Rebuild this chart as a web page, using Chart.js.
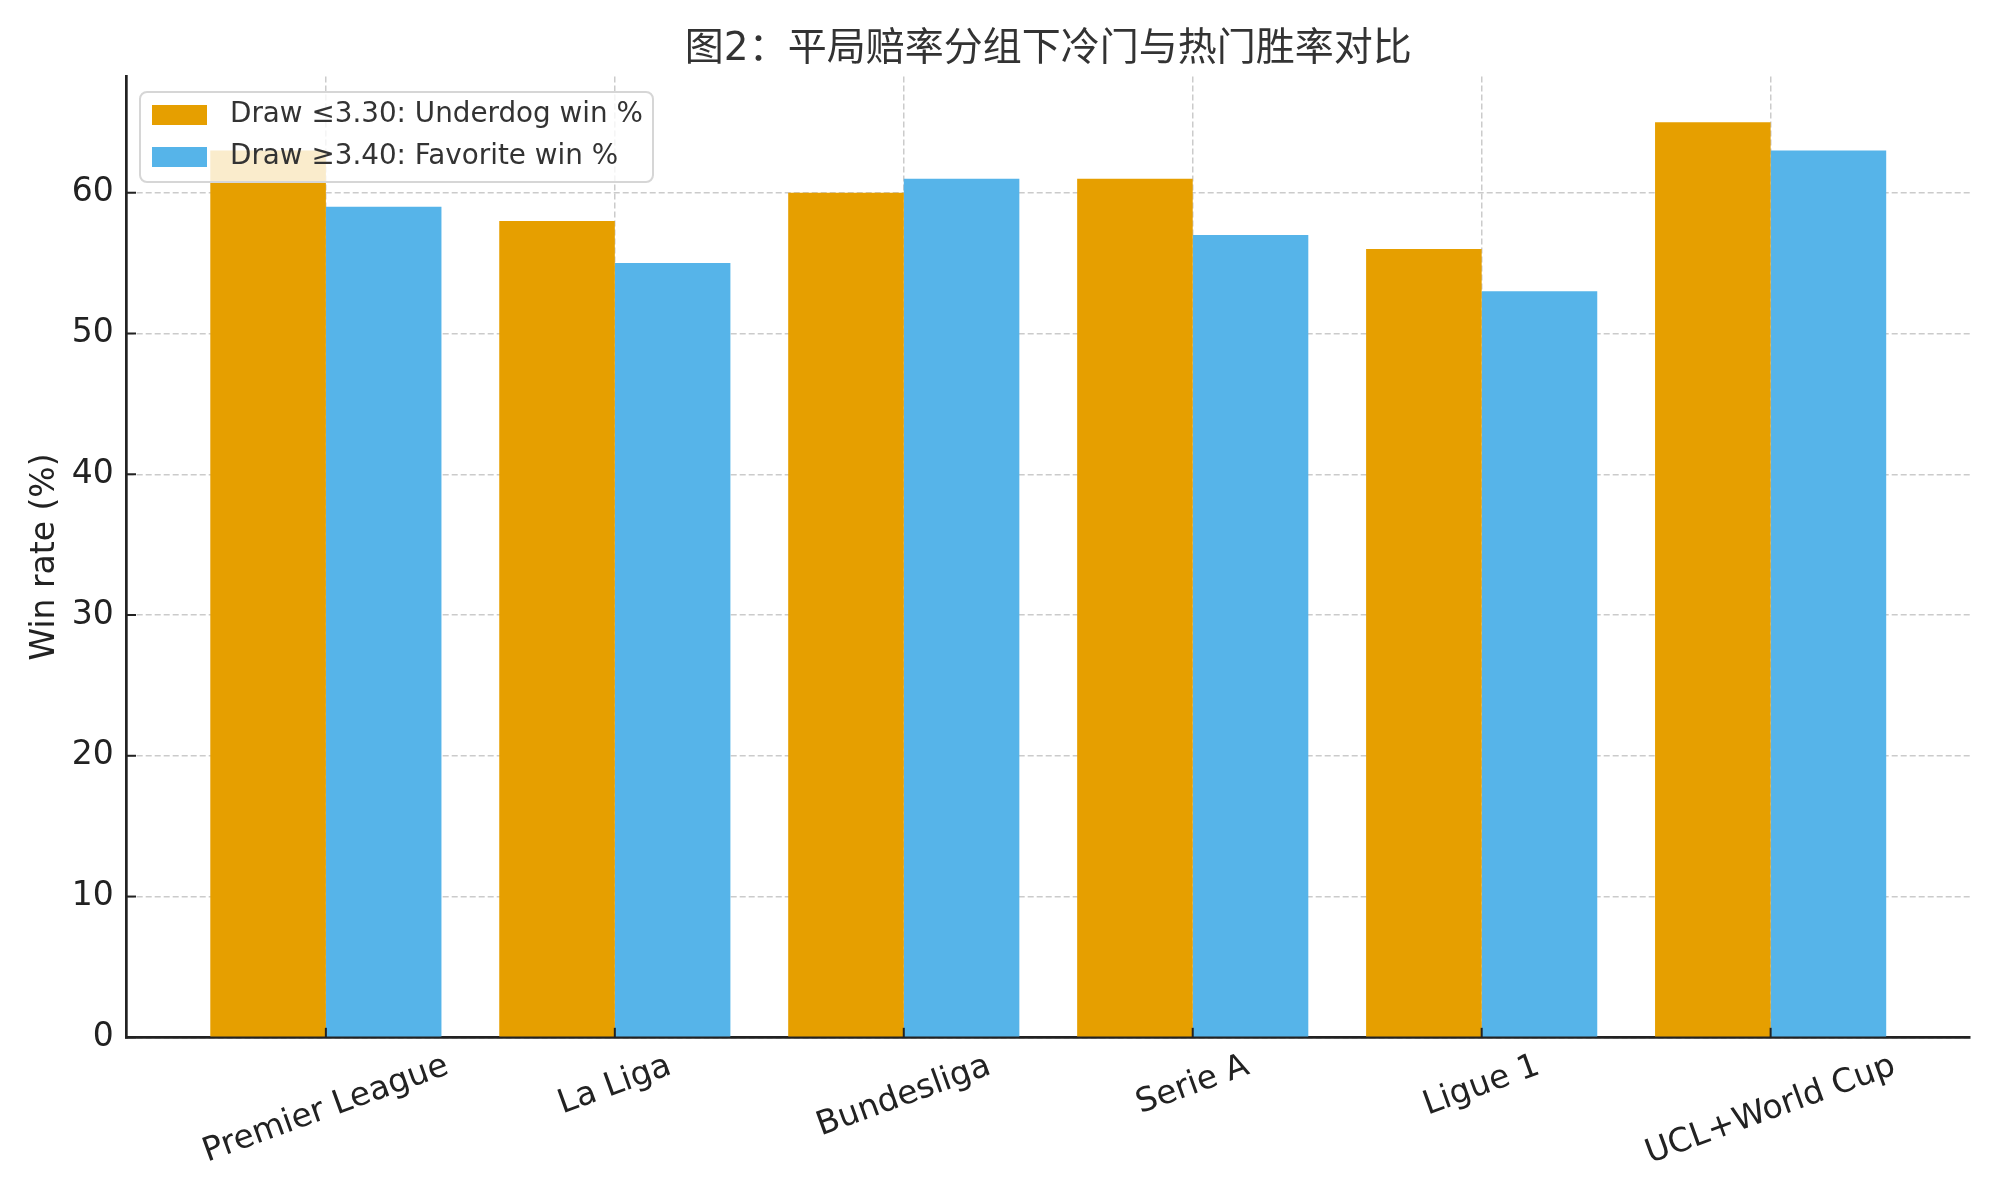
<!DOCTYPE html>
<html>
<head>
<meta charset="utf-8">
<script src="https://cdn.jsdelivr.net/npm/chart.js@4"></script>
<style>
  html, body { margin: 0; padding: 0; background: #fff; }
  canvas { display: block; }
</style>
</head>
<body>
<canvas id="winChart" width="2000" height="1200"></canvas>
<script>
// 데이터
const categories = ['Premier League', 'La Liga', 'Bundesliga', 'Serie A', 'Ligue 1', 'UCL+World Cup'];
const underdogWin = [63, 58, 60, 61, 56, 65];   // Draw ≤3.30
const favoriteWin = [59, 55, 61, 57, 53, 63];   // Draw ≥3.40
const yTicks = [0, 10, 20, 30, 40, 50, 60];
const seriesLabels = ['Draw ≤3.30: Underdog win %', 'Draw ≥3.40: Favorite win %'];
const chartTitle = '图2：平局赔率分组下冷门与热门胜率对比';
const yTitle = 'Win rate (%)';

const ORANGE = '#E69F00';
const BLUE = '#56B4E9';
const FONT = '"DejaVu Sans", "Noto Sans CJK SC", sans-serif';

// 제목, 축 라벨, 범례, 안쪽 눈금 그리기
const decorPlugin = {
    id: 'decor',
    afterDraw(chart) {
        const ctx = chart.ctx;
        const area = chart.chartArea;
        const xs = chart.scales.x;
        const ys = chart.scales.y;
        ctx.save();

        // 안쪽 눈금
        ctx.strokeStyle = '#222';
        ctx.lineWidth = 2;
        categories.forEach((c, i) => {
            const px = xs.getPixelForValue(i);
            ctx.beginPath();
            ctx.moveTo(px, area.bottom);
            ctx.lineTo(px, area.bottom - 9.5);
            ctx.stroke();
        });
        yTicks.forEach(v => {
            const py = ys.getPixelForValue(v);
            ctx.beginPath();
            ctx.moveTo(area.left, py);
            ctx.lineTo(area.left + 9.5, py);
            ctx.stroke();
        });

        // x 라벨 (20도 회전, 가운데 정렬)
        ctx.font = '33px ' + FONT;
        ctx.fillStyle = '#222';
        ctx.textAlign = 'center';
        ctx.textBaseline = 'middle';
        const ang = 20 * Math.PI / 180;
        categories.forEach((c, i) => {
            const px = xs.getPixelForValue(i);
            const w = ctx.measureText(c).width;
            const h = 38;
            const cy = area.bottom + 10 + (w * Math.sin(ang) + h * Math.cos(ang)) / 2;
            ctx.save();
            ctx.translate(px, cy);
            ctx.rotate(-ang);
            ctx.fillText(c, 0, 0);
            ctx.restore();
        });

        // y 축 제목
        ctx.save();
        ctx.translate(45, (area.top + area.bottom) / 2);
        ctx.rotate(-Math.PI / 2);
        ctx.fillText(yTitle, 0, 0);
        ctx.restore();

        // 제목
        ctx.font = '39px ' + FONT;
        ctx.fillStyle = '#333';
        ctx.fillText(chartTitle, (area.left + area.right) / 2, 50);

        // 범례
        const lx = 140, ly = 92, lw = 513, lh = 90, r = 7;
        ctx.beginPath();
        ctx.roundRect(lx, ly, lw, lh, r);
        ctx.fillStyle = 'rgba(255,255,255,0.8)';
        ctx.fill();
        ctx.strokeStyle = '#d6d6d6';
        ctx.lineWidth = 2;
        ctx.stroke();
        const colors = [ORANGE, BLUE];
        ctx.font = '27.8px ' + FONT;
        ctx.textAlign = 'left';
        seriesLabels.forEach((lab, i) => {
            const yy = 115 + i * 42;
            ctx.fillStyle = colors[i];
            ctx.fillRect(152, yy - 10, 55, 20);
            ctx.fillStyle = '#333';
            ctx.fillText(lab, 230, yy);
        });

        ctx.restore();
    }
};

const borderStyle = { display: true, color: '#222', width: 2.7, dash: [6, 3] };

new Chart(document.getElementById('winChart'), {
    type: 'bar',
    data: {
        datasets: [{
            label: seriesLabels[0],
            data: underdogWin.map((v, i) => ({ x: i, y: v })),
            backgroundColor: ORANGE,
            borderWidth: 0
        }, {
            label: seriesLabels[1],
            data: favoriteWin.map((v, i) => ({ x: i, y: v })),
            backgroundColor: BLUE,
            borderWidth: 0
        }]
    },
    options: {
        responsive: false,
        animation: false,
        devicePixelRatio: 1,
        categoryPercentage: 0.8,
        barPercentage: 1.0,
        layout: { padding: { top: 76.6, right: 30, left: 0, bottom: 0 } },
        scales: {
            x: {
                type: 'linear',
                min: -0.69,
                max: 5.69,
                offset: false,
                grid: { color: '#cbcbcb', lineWidth: 1.5, drawTicks: false, offset: false },
                border: borderStyle,
                ticks: { display: false },
                afterBuildTicks: s => { s.ticks = categories.map((c, i) => ({ value: i })); },
                afterFit: s => { s.height = 162.7; }
            },
            y: {
                min: 0,
                max: 68.25,
                grid: { color: '#cbcbcb', lineWidth: 1.5, drawTicks: false },
                border: borderStyle,
                ticks: {
                    padding: 12.7,
                    color: '#222',
                    font: { family: FONT, size: 33 }
                },
                afterBuildTicks: s => { s.ticks = yTicks.map(v => ({ value: v })); },
                afterFit: s => { s.width = 126.5; }
            }
        },
        plugins: {
            legend: { display: false },
            tooltip: { enabled: false }
        }
    },
    plugins: [decorPlugin]
});
</script>
</body>
</html>
